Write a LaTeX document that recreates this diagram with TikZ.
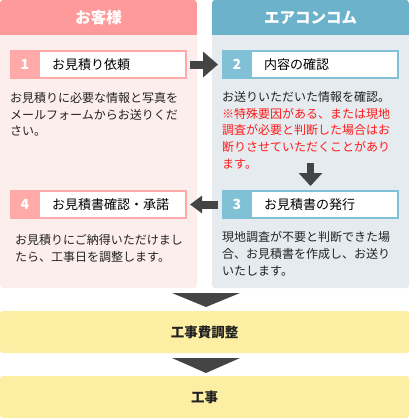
\documentclass[tikz,border=0pt]{standalone}
\usepackage{fontspec}
\setmainfont{Noto Sans CJK JP}
\usetikzlibrary{arrows.meta}
\definecolor{pinkhead}{HTML}{FF9A9A}
\definecolor{pinkbody}{HTML}{FDEEEE}
\definecolor{pinknum}{HTML}{FFA9A9}
\definecolor{bluehead}{HTML}{6DB2CB}
\definecolor{bluebody}{HTML}{E5EBEE}
\definecolor{bluenum}{HTML}{80C1D6}
\definecolor{arrowgray}{HTML}{444444}
\definecolor{yel}{HTML}{FCEEA2}
\definecolor{txt}{HTML}{222222}
\definecolor{redtxt}{HTML}{FF1A1A}
\begin{document}
\begin{tikzpicture}[x=1pt,y=-1pt,
  panel/.style={rounded corners=3pt, minimum width=197pt, minimum height=288pt, anchor=north west, inner sep=0pt, outer sep=0pt},
  headbar/.style={minimum width=197pt, minimum height=35pt, anchor=north west, inner sep=0pt, text=white, font=\fontsize{15.5}{18}\selectfont\bfseries},
  titlebox/.style={draw=#1, line width=2pt, fill=white, minimum width=175pt, minimum height=27pt, inner sep=0pt},
  numtext/.style={text=white, font=\fontsize{14}{16}\selectfont\bfseries, inner sep=0pt},
  titletext/.style={text=black, font=\fontsize{13}{15}\selectfont, anchor=west, inner sep=0pt},
  bodytext/.style={text=txt, font=\fontsize{12}{16.6}\selectfont, align=left, anchor=north west, inner sep=0pt},
  fatarrow/.style={draw=arrowgray, fill=arrowgray},
  ybox/.style={fill=yel, rounded corners=3pt, minimum width=409pt, minimum height=42pt, inner sep=0pt, text=txt, font=\fontsize{13.5}{16}\selectfont\bfseries}
]
\useasboundingbox (0,0) rectangle (409,418);

% panels
\node[panel, fill=pinkbody] (lp) at (0,0) {};
\node[panel, fill=bluebody] (rp) at (212,0) {};
\begin{scope}
  \clip[rounded corners=3pt] (lp.north west) rectangle (lp.south east);
  \node[headbar, fill=pinkhead] (lh) at (0,0) {お客様};
\end{scope}
\begin{scope}
  \clip[rounded corners=3pt] (rp.north west) rectangle (rp.south east);
  \node[headbar, fill=bluehead] (rh) at (212,0) {エアコンコム};
\end{scope}

% step boxes
\node[titlebox=pinknum] (b1) at (98.5,64.5) {};
\fill[pinknum] (b1.north west) rectangle ([xshift=30pt]b1.south west);
\node[numtext] (n1) at (25,64.5) {1};
\node[titletext] (t1) at (52,64.5) {お見積り依頼};

\node[titlebox=bluenum] (b2) at (310.5,64.5) {};
\fill[bluenum] (b2.north west) rectangle ([xshift=30pt]b2.south west);
\node[numtext] (n2) at (237,64.5) {2};
\node[titletext] (t2) at (264,64.5) {内容の確認};

\node[titlebox=bluenum] (b3) at (310.5,204.5) {};
\fill[bluenum] (b3.north west) rectangle ([xshift=30pt]b3.south west);
\node[numtext] (n3) at (237,204.5) {3};
\node[titletext] (t3) at (264,204.5) {お見積書の発行};

\node[titlebox=pinknum] (b4) at (98.5,204.5) {};
\fill[pinknum] (b4.north west) rectangle ([xshift=30pt]b4.south west);
\node[numtext] (n4) at (25,204.5) {4};
\node[titletext] (t4) at (52,204.5) {お見積書確認・承諾};

% body texts
\node[bodytext] (d1) at (10,92.5) {お見積りに必要な情報と写真を\\メールフォームからお送りくだ\\さい。};
\node[bodytext] (d2) at (222,91.5) {お送りいただいた情報を確認。\\\textcolor{redtxt}{※特殊要因がある、または現地}\\\textcolor{redtxt}{調査が必要と判断した場合はお}\\\textcolor{redtxt}{断りさせていただくことがあり}\\\textcolor{redtxt}{ます。}};
\node[bodytext] (d3) at (222,231.5) {現地調査が不要と判断できた場\\合、お見積書を作成し、お送り\\いたします。};
\node[bodytext] (d4) at (15,234.5) {お見積りにご納得いただけまし\\たら、工事日を調整します。};

% arrows
\draw[fatarrow, line width=8pt, -{Triangle[length=15pt,width=25pt]}, shorten <=3pt, shorten >=4pt] (b1) -- (b2);
\draw[fatarrow, line width=8pt, -{Triangle[length=12pt,width=17pt]}, shorten <=4pt, shorten >=3pt] (b3) -- (b4);
\coordinate (ds) at (310.5,163);
\draw[fatarrow, line width=7pt, -{Triangle[length=13pt,width=23pt]}, shorten >=4pt] (ds) -- (ds |- b3.north);

% bottom
\node[ybox] (y1) at (204.5,332) {工事費調整};
\node[ybox] (y2) at (204.5,397) {工事};
\fill[arrowgray] (172,293) -- (240,293) -- (206,307) -- cycle;
\fill[arrowgray] (172,358) -- (240,358) -- (206,373) -- cycle;
\end{tikzpicture}
\end{document}
